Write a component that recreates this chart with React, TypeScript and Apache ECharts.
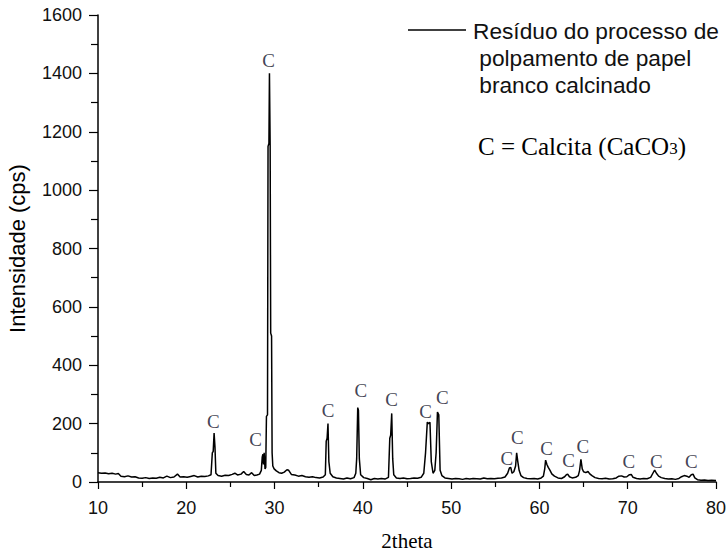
import React, { useEffect, useRef } from "react";
import * as echarts from "echarts";

// XRD pattern: [2theta, intensity (cps)]
const pattern: [number, number][] = [
  [10.0, 32], [10.4, 30], [10.8, 31], [11.2, 28], [11.6, 30], [12.0, 27], [12.3, 29], [12.6, 20],
  [13.0, 18], [13.4, 21], [13.8, 17], [14.2, 18], [14.6, 14], [15.0, 13], [15.4, 15], [15.8, 12],
  [16.2, 14], [16.6, 13], [17.0, 16], [17.4, 14], [17.8, 20], [18.2, 15], [18.6, 17], [19.0, 27],
  [19.3, 17], [19.7, 18], [20.1, 16], [20.5, 19], [20.9, 22], [21.3, 17], [21.7, 20], [22.1, 19],
  [22.5, 21], [22.8, 25], [22.95, 100], [23.05, 105], [23.15, 168], [23.25, 120], [23.35, 30],
  [23.6, 22], [24.0, 20], [24.4, 23], [24.8, 22], [25.2, 26], [25.5, 30], [25.8, 24], [26.2, 27],
  [26.5, 36], [26.8, 26], [27.1, 24], [27.4, 32], [27.7, 22], [28.0, 24], [28.3, 27],
  [28.5, 40], [28.6, 85], [28.68, 95], [28.75, 60], [28.82, 100], [28.92, 45], [29.0, 50],
  [29.08, 225], [29.2, 230], [29.26, 1150], [29.36, 1160], [29.42, 1400], [29.5, 1150],
  [29.56, 510], [29.66, 500], [29.72, 100], [29.8, 55], [29.95, 45], [30.2, 38], [30.5, 32],
  [30.8, 30], [31.1, 34], [31.4, 42], [31.6, 40], [31.9, 26], [32.3, 24], [32.7, 20], [33.1, 22],
  [33.5, 18], [33.9, 16], [34.3, 18], [34.7, 15], [35.1, 14], [35.5, 17], [35.75, 25],
  [35.85, 140], [35.95, 150], [36.05, 200], [36.15, 70], [36.3, 30], [36.6, 18], [37.0, 14],
  [37.4, 12], [37.8, 10], [38.2, 14], [38.6, 11], [39.0, 15], [39.2, 30], [39.3, 80],
  [39.42, 255], [39.5, 245], [39.6, 80], [39.75, 25], [40.1, 15], [40.5, 12], [40.9, 8],
  [41.3, 12], [41.7, 10], [42.1, 12], [42.5, 10], [42.9, 16], [43.05, 150], [43.15, 160],
  [43.27, 235], [43.38, 80], [43.5, 25], [43.8, 14], [44.2, 12], [44.6, 14], [45.0, 11],
  [45.4, 12], [45.8, 14], [46.2, 13], [46.6, 16], [46.9, 30], [47.1, 100], [47.3, 205],
  [47.45, 200], [47.6, 205], [47.75, 70], [47.95, 30], [48.15, 40], [48.3, 100], [48.45, 240],
  [48.6, 230], [48.75, 40], [48.95, 22], [49.3, 14], [49.7, 12], [50.1, 10], [50.5, 12],
  [50.9, 11], [51.3, 9], [51.7, 12], [52.1, 10], [52.5, 12], [52.9, 11], [53.3, 10], [53.7, 14],
  [54.1, 11], [54.5, 12], [54.9, 11], [55.3, 13], [55.7, 14], [56.1, 17], [56.4, 30],
  [56.6, 48], [56.75, 50], [56.9, 30], [57.1, 35], [57.3, 55], [57.42, 100], [57.55, 70],
  [57.7, 40], [57.9, 22], [58.2, 15], [58.6, 12], [59.0, 11], [59.4, 12], [59.8, 10],
  [60.2, 14], [60.45, 20], [60.6, 45], [60.7, 75], [60.85, 60], [61.0, 50], [61.2, 40],
  [61.4, 28], [61.7, 20], [62.1, 14], [62.5, 12], [62.85, 18], [63.05, 25], [63.2, 27],
  [63.4, 18], [63.7, 14], [64.1, 16], [64.4, 22], [64.55, 40], [64.7, 78], [64.85, 45],
  [65.0, 35], [65.25, 32], [65.5, 36], [65.7, 28], [65.95, 22], [66.3, 15], [66.7, 12],
  [67.1, 11], [67.5, 13], [67.9, 10], [68.3, 11], [68.7, 14], [69.0, 20], [69.3, 21],
  [69.6, 17], [69.9, 18], [70.2, 25], [70.4, 26], [70.6, 16], [71.0, 12], [71.4, 10],
  [71.8, 12], [72.2, 11], [72.6, 16], [72.85, 30], [73.05, 41], [73.25, 30], [73.5, 20],
  [73.8, 15], [74.2, 12], [74.6, 10], [75.0, 11], [75.4, 9], [75.8, 12], [76.1, 18],
  [76.4, 22], [76.7, 20], [76.95, 16], [77.2, 25], [77.4, 27], [77.6, 14], [77.9, 8],
  [78.3, 6], [78.7, 7], [79.1, 5], [79.5, 6], [80.0, 5],
];

// "C" (calcite) markers: [2theta, intensity] of each label's centre
const calciteLabels: [number, number][] = [
  [23.06, 207], [27.84, 144], [29.33, 1443], [36.05, 244], [39.77, 313], [43.26, 282],
  [47.12, 241], [49.0, 288], [56.32, 81], [57.51, 154], [60.82, 115], [63.31, 73],
  [64.93, 121], [70.14, 70], [73.23, 70], [77.2, 70],
];

const xTicks = { min: 10, max: 80, interval: 10 };
const yTicks = { min: 0, max: 1600, interval: 200 };

const seriesName = "Resíduo do processo de\n polpamento de papel\n branco calcinado";

export default function App() {
  const ref = useRef<HTMLDivElement>(null);
  useEffect(() => {
    document.body.style.margin = "0";
    const chart = echarts.init(ref.current!, null, { renderer: "svg" });
    const axisColor = "#000";
    const sans = "'Liberation Sans', Arial, sans-serif";
    const serif = "'Liberation Serif', 'Times New Roman', serif";
    chart.setOption({
      animation: false,
      backgroundColor: "#fff",
      grid: {
        left: 98,
        right: 11,
        top: 15,
        bottom: 70,
        containLabel: false,
        outerBoundsMode: "none",
      },
      xAxis: {
        type: "value",
        min: xTicks.min,
        max: xTicks.max,
        interval: xTicks.interval,
        name: "2theta",
        nameLocation: "middle",
        nameGap: 48,
        nameTextStyle: { fontFamily: serif, fontSize: 21, color: "#000" },
        axisLine: { show: true, onZero: false, lineStyle: { color: axisColor, width: 1.5 } },
        axisTick: { show: true, inside: false, length: 7, lineStyle: { color: axisColor, width: 1.2 } },
        minorTick: { show: true, splitNumber: 2, length: 5, lineStyle: { color: axisColor, width: 1.2 } },
        axisLabel: { fontFamily: sans, fontSize: 18, color: "#111", margin: 17 },
        splitLine: { show: false },
      },
      yAxis: {
        type: "value",
        min: yTicks.min,
        max: yTicks.max,
        interval: yTicks.interval,
        name: "Intensidade (cps)",
        nameLocation: "middle",
        nameGap: 70,
        nameRotate: 90,
        nameTextStyle: { fontFamily: sans, fontSize: 22, color: "#000" },
        axisLine: { show: true, onZero: false, lineStyle: { color: axisColor, width: 1.5 } },
        axisTick: { show: true, inside: false, length: 9, lineStyle: { color: axisColor, width: 1.2 } },
        minorTick: { show: true, splitNumber: 2, length: 7, lineStyle: { color: axisColor, width: 1.2 } },
        axisLabel: {
          fontFamily: sans,
          fontSize: 18,
          color: "#111",
          margin: 16,
          formatter: (v: number) => String(v),
        },
        splitLine: { show: false },
      },
      series: [
        {
          name: seriesName,
          type: "line",
          data: pattern,
          showSymbol: false,
          symbol: "none",
          lineStyle: { color: "#000", width: 1.5 },
        },
        {
          name: "Calcita",
          type: "scatter",
          data: calciteLabels,
          symbol: "circle",
          symbolSize: 1,
          itemStyle: { color: "rgba(0,0,0,0)" },
          label: {
            show: true,
            position: "inside",
            formatter: "C",
            fontFamily: serif,
            fontSize: 19,
            color: "#10102a",
          },
          z: 5,
        },
      ],
      graphic: [
        {
          type: "line",
          shape: { x1: 408, y1: 30, x2: 466, y2: 30 },
          style: { stroke: "#000", lineWidth: 1.3 },
        },
        {
          type: "text",
          x: 473,
          y: 17,
          style: {
            text: seriesName,
            font: `22.7px ${sans}`,
            lineHeight: 27,
            fill: "#111",
          },
        },
        {
          type: "text",
          x: 478,
          y: 146,
          style: {
            text: "{m|C = Calcita (CaCO}{s|3}{m|)}",
            verticalAlign: "middle",
            rich: {
              m: { fontFamily: serif, fontSize: 25, fill: "#000", color: "#000" },
              s: { fontFamily: serif, fontSize: 17, fill: "#000", color: "#000", padding: [4, 0, 0, 0] },
            },
          },
        },
      ],
    });
    return () => chart.dispose();
  }, []);
  return <div ref={ref} style={{ width: 727, height: 552 }} />;
}
